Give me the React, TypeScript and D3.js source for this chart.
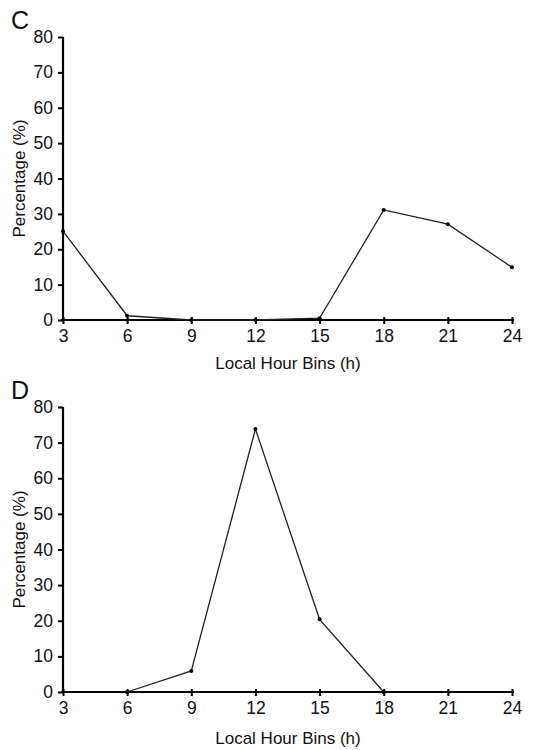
// import d3 and react hooks
import * as d3 from "d3";
import { useRef, useEffect } from "react";

// x axis tick labels (local hour bins)
const hourBins = [3, 6, 9, 12, 15, 18, 21, 24];
const yTicks = [0, 10, 20, 30, 40, 50, 60, 70, 80];

// panel C values
const hoursC = [3, 6, 9, 12, 15, 18, 21, 24];
const percentC = [25.1, 1.2, 0, 0, 0.5, 31.1, 27.1, 14.9];

// panel D values
const hoursD = [6, 9, 12, 15, 18];
const percentD = [0, 5.9, 73.8, 20.4, 0];

export default function App() {
    // ref for svg
    const svgRef = useRef(null);

    useEffect(() => {
        document.body.style.margin = "0";
        const svg = d3.select(svgRef.current);
        svg.selectAll("*").remove();

        const font = "Liberation Sans, Arial, sans-serif";

        // draw one panel
        const drawPanel = (letter, hours, values, top, bottom, titleGap) => {
            const x = d3.scaleLinear().domain([3, 24]).range([63, 512]);
            const y = d3.scaleLinear().domain([0, 80]).range([bottom, top]);
            const g = svg.append("g");

            // panel letter
            g.append("text").attr("x", 11).attr("y", top - 8).attr("font-family", font).attr("font-size", 25).attr("fill", "#111").text(letter);

            // y axis, ticks pointing outwards
            const yAxis = g.append("g").attr("transform", "translate(63,0)").call(d3.axisLeft(y).tickValues(yTicks).tickSize(5).tickPadding(5));
            yAxis.select(".domain").attr("d", `M0,${top}V${bottom}`).attr("stroke-width", 2.2);
            yAxis.selectAll(".tick line").attr("stroke-width", 2);
            yAxis.selectAll("text").attr("font-family", font).attr("font-size", 17.5).attr("fill", "#111");

            // x axis, ticks crossing the line
            const xAxis = g.append("g").attr("transform", `translate(0,${bottom})`).call(d3.axisBottom(x).tickValues(hourBins).tickSize(4).tickPadding(6));
            xAxis.select(".domain").attr("d", "M61,0H514").attr("stroke-width", 2.2);
            xAxis.selectAll(".tick line").attr("y1", -3).attr("stroke-width", 2);
            xAxis.selectAll("text").attr("font-family", font).attr("font-size", 17.5).attr("fill", "#111");

            // axis titles
            g.append("text").attr("x", 288).attr("y", bottom + titleGap).attr("text-anchor", "middle").attr("font-family", font).attr("font-size", 17).attr("fill", "#111").text("Local Hour Bins (h)");
            g.append("text").attr("transform", "rotate(-90)").attr("x", -(top + bottom) / 2).attr("y", 25).attr("text-anchor", "middle").attr("font-family", font).attr("font-size", 17).attr("fill", "#111").text("Percentage (%)");

            // the line and its markers
            const pts = hours.map((h, i) => [h, values[i]]);
            const line = d3.line().x(d => x(d[0])).y(d => y(d[1]));
            g.append("path").datum(pts).attr("d", line).attr("fill", "none").attr("stroke", "#222").attr("stroke-width", 1.3);
            g.selectAll("circle.pt").data(pts).enter().append("circle").attr("class", "pt").attr("cx", d => x(d[0])).attr("cy", d => y(d[1])).attr("r", 2).attr("fill", "#000");
        };

        drawPanel("C", hoursC, percentC, 37, 320, 49);
        drawPanel("D", hoursD, percentD, 407, 692, 52);
    }, []);

    return <svg ref={svgRef} width={543} height={750} style={{ display: "block", background: "#fff" }} />;
}
